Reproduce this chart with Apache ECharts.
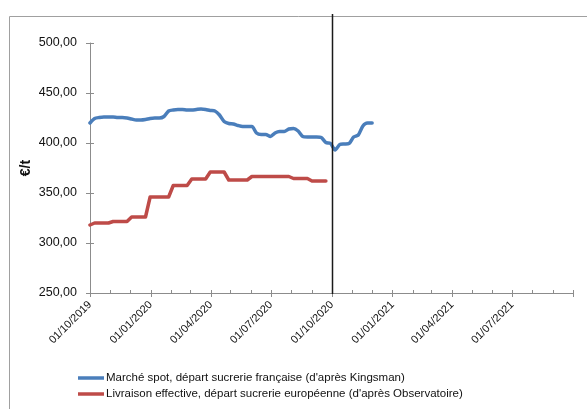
<!DOCTYPE html>
<html>
<head>
<meta charset="utf-8">
<script src="https://cdn.jsdelivr.net/npm/echarts@6/dist/echarts.min.js"></script>
<style>
html,body{margin:0;padding:0;background:#fff;}
#chart{width:587px;height:409px;}
</style>
</head>
<body>
<div id="chart"></div>
<script>
// ---- data ----
const seriesNames = [
  "Marché spot, départ sucrerie française (d'après Kingsman)",
  "Livraison effective, départ sucrerie européenne (d'après Observatoire)"
];
const startDate = [2019, 9, 1]; // first weekly observation: 01/10/2019
const blueValues = [420,424.5,425.5,426,426,426,425.5,425.5,425,424,423,423,423.5,424.5,425,425,426.5,432,433,433.5,433.5,433,433,433.5,434,433.5,432.5,432,428,421.5,419.5,419,417.5,416.5,416.5,416.5,410,408.5,408.5,406.5,410,411.5,411.5,414,414.5,412,406.5,406,406,406,405.5,400.5,399.5,393,398.5,399,399.5,406,408,417,420,420];
const redValues = [318,320,320,320,320,321.5,321.5,321.5,321.5,326,326,326,326,346,346,346,346,346,357.5,357.5,357.5,357.5,364,364,364,364,371,371,371,371,363,363,363,363,363,366.5,366.5,366.5,366.5,366.5,366.5,366.5,366.5,366.5,364.5,364.5,364.5,364.5,362,362,362,362];
const xMin = [2019, 9, 1];
const xMax = [2021, 9, 1];
const quarterTicks = [[2019,9,1],[2020,0,1],[2020,3,1],[2020,6,1],[2020,9,1],[2021,0,1],[2021,3,1],[2021,6,1],[2021,9,1]];
const quarterLabels = [[2019,9,1],[2020,0,1],[2020,3,1],[2020,6,1],[2020,9,1],[2021,0,1],[2021,3,1],[2021,6,1]];
const refLineDate = [2020, 9, 1];
const yTicks = { min: 250, max: 500, interval: 50 };
const yName = '€/t';
const colors = ['#4a7ebb', '#be4b48'];

// ---- helpers ----
const ts = a => new Date(a[0], a[1], a[2]).getTime();
const weekDate = i => new Date(startDate[0], startDate[1], startDate[2] + 7 * i).getTime();
const blueData = blueValues.map((v, i) => [weekDate(i), v]);
const redData = redValues.map((v, i) => [weekDate(i), v]);
const monthTicks = [];
for (let y = xMin[0], m = xMin[1]; ts([y, m, 1]) <= ts(xMax); ) {
  monthTicks.push(ts([y, m, 1]));
  m++; if (m > 11) { m = 0; y++; }
}
const pad = n => (n < 10 ? '0' : '') + n;
const fmtDate = v => { const d = new Date(v); return pad(d.getDate()) + '/' + pad(d.getMonth() + 1) + '/' + d.getFullYear(); };

const FONT = 'Liberation Sans';
const chart = echarts.init(document.getElementById('chart'), null, { renderer: 'canvas' });

const option = {
  animation: false,
  backgroundColor: '#fff',
  textStyle: { fontFamily: FONT },
  grid: { left: 90, right: 14, top: 43, bottom: 116, outerBoundsMode: 'none' },
  legend: {
    orient: 'vertical',
    left: 78,
    top: 371,
    padding: 0,
    icon: 'rect',
    itemWidth: 26,
    itemHeight: 3.5,
    itemGap: 2,
    textStyle: { fontFamily: FONT, fontSize: 11.5, color: '#111', padding: [0, 0, 0, -3], lineHeight: 14 },
    data: seriesNames
  },
  xAxis: [
    {
      type: 'value',
      min: ts(xMin),
      max: ts(xMax),
      axisLine: { show: true, lineStyle: { color: '#8c8c8c', width: 1 } },
      axisTick: { show: true, length: 4, lineStyle: { color: '#8c8c8c' }, customValues: quarterTicks.map(ts) },
      axisLabel: {
        customValues: quarterLabels.map(ts),
        formatter: v => fmtDate(v),
        rotate: 45,
        margin: 10,
        fontFamily: FONT,
        fontSize: 11,
        color: '#111'
      },
      splitLine: { show: false }
    },
    {
      type: 'value',
      position: 'bottom',
      min: ts(xMin),
      max: ts(xMax),
      axisLine: { show: false },
      axisTick: { show: true, inside: true, length: 3, lineStyle: { color: '#8c8c8c' }, customValues: monthTicks },
      axisLabel: { show: false },
      splitLine: { show: false }
    }
  ],
  yAxis: [
    {
      type: 'value',
      min: yTicks.min,
      max: yTicks.max,
      interval: yTicks.interval,
      name: yName,
      nameLocation: 'middle',
      nameGap: 57,
      nameMoveOverlap: false,
      nameRotate: 90,
      nameTextStyle: { fontFamily: FONT, fontSize: 14, fontWeight: 'bold', color: '#111' },
      axisLine: { show: true, lineStyle: { color: '#8c8c8c', width: 1 } },
      axisTick: { show: true, length: 4, lineStyle: { color: '#8c8c8c' } },
      axisLabel: {
        margin: 13,
        fontFamily: FONT,
        fontSize: 12.5,
        color: '#111',
        formatter: v => v.toFixed(2).replace('.', ',')
      },
      splitLine: { show: false }
    },
    {
      type: 'value',
      position: 'left',
      min: yTicks.min,
      max: yTicks.max,
      interval: yTicks.interval,
      axisLine: { show: false },
      axisTick: { show: true, inside: true, length: 4, lineStyle: { color: '#8c8c8c' } },
      axisLabel: { show: false },
      splitLine: { show: false }
    }
  ],
  series: [
    {
      name: seriesNames[0],
      type: 'line',
      xAxisIndex: 0,
      yAxisIndex: 0,
      data: blueData,
      symbol: 'none',
      smooth: 0.25,
      lineStyle: { color: colors[0], width: 3.5, join: 'round', cap: 'round' },
      itemStyle: { color: colors[0] }
    },
    {
      name: seriesNames[1],
      type: 'line',
      xAxisIndex: 0,
      yAxisIndex: 0,
      data: redData,
      symbol: 'none',
      smooth: false,
      lineStyle: { color: colors[1], width: 3.5, join: 'round', cap: 'round' },
      itemStyle: { color: colors[1] }
    }
  ]
};
chart.setOption(option);

const refX = Math.round(chart.convertToPixel({ xAxisIndex: 0 }, ts(refLineDate))) + 0.5;
const bottomY = chart.convertToPixel({ yAxisIndex: 0 }, yTicks.min);
chart.setOption({
  graphic: [
    {
      type: 'rect',
      silent: true,
      shape: { x: 9.5, y: 16.5, width: 700, height: 500 },
      style: { fill: 'none', stroke: '#a0a0a0', lineWidth: 1 },
      z: -1
    },
    {
      type: 'line',
      silent: true,
      shape: { x1: refX, y1: 14, x2: refX, y2: bottomY + 1 },
      style: { stroke: '#1a1a1a', lineWidth: 1.5 },
      z: 10
    }
  ]
});
</script>
</body>
</html>
